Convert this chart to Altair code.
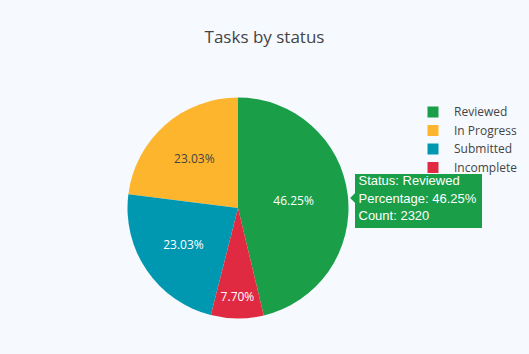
import altair as alt
import pandas as pd

# ---- data ----
statuses = ["Reviewed", "In Progress", "Submitted", "Incomplete"]
counts = [2320, 1155, 1155, 386]
clockwise_order = [0, 3, 2, 1]  # slice order going clockwise from 12 o'clock
colors = ["#1a9e48", "#fdb52d", "#0097b0", "#e02a42"]
title_text = "Tasks by status"
hover_status = "Reviewed"

df = pd.DataFrame({"status": statuses, "count": counts, "ord": clockwise_order})

FONT = "Open Sans"
CX, CY, R = 238, 208, 110.5

base = (
    alt.Chart(df)
    .transform_joinaggregate(total="sum(count)")
    .transform_window(cum="sum(count)", sort=[alt.SortField("ord")], frame=[None, 0])
    .transform_calculate(
        pct="datum.count / datum.total",
        t0="2 * PI * (datum.cum - datum.count) / datum.total",
        t1="2 * PI * datum.cum / datum.total",
        tm="2 * PI * (datum.cum - datum.count / 2) / datum.total",
        lab="format(datum.count / datum.total, '.2%')",
        lr="datum.status == 'Incomplete' ? 89 : (datum.status == 'Reviewed' ? 56 : 66)",
        hover="'Status: ' + datum.status + '\\nPercentage: ' + format(datum.count / datum.total, '.2%') + '\\nCount: ' + datum.count",
    )
)

color = alt.Color(
    "status:N",
    scale=alt.Scale(domain=statuses, range=colors),
    legend=alt.Legend(
        title=None,
        orient="none",
        legendX=427,
        legendY=106,
        symbolType="square",
        symbolSize=121,
        symbolStrokeWidth=0,
        labelFontSize=12,
        labelFont=FONT,
        labelColor="#444",
        labelOffset=15,
        rowPadding=6.5,
        padding=0,
    ),
)

pie = base.mark_arc(outerRadius=R, strokeWidth=0).encode(
    theta=alt.Theta("t0:Q", scale=None),
    theta2="t1:Q",
    color=color,
    x=alt.value(CX),
    y=alt.value(CY),
)

labels = base.mark_text(font=FONT, fontSize=12).encode(
    theta=alt.Theta("tm:Q", scale=None),
    radius=alt.Radius("lr:Q", scale=None),
    text="lab:N",
    color=alt.condition(alt.datum.status == "In Progress", alt.value("#444"), alt.value("#ffffff")),
    x=alt.value(CX),
    y=alt.value(CY),
)

hov = base.transform_filter(alt.datum.status == hover_status)

box = hov.mark_rect(color=colors[0]).encode(
    x=alt.value(355), x2=alt.value(482), y=alt.value(174), y2=alt.value(228)
)
arrow = hov.mark_point(
    shape="M 0.5 -1 L -0.5 0 L 0.5 1 Z", filled=True, opacity=1, color=colors[0], size=100
).encode(x=alt.value(352.6), y=alt.value(198))
hover_text = hov.mark_text(
    align="left", baseline="top", lineBreak="\n", lineHeight=17.5,
    font="Liberation Sans", fontSize=13, color="#ffffff"
).encode(text="hover:N", x=alt.value(358.5), y=alt.value(175))

chart = (
    alt.layer(pie, labels, box, arrow, hover_text)
    .properties(
        width=529,
        height=354,
        autosize=alt.AutoSizeParams(type="none"),
        padding=0,
        background="#f6faff",
        title=alt.TitleParams(
            title_text, fontSize=17, font=FONT, color="#444", fontWeight="normal",
            anchor="middle", offset=-47,
        ),
    )
    .configure_view(stroke=None)
)

chart.save("out.html", embed_options={"renderer": "svg", "actions": False})
